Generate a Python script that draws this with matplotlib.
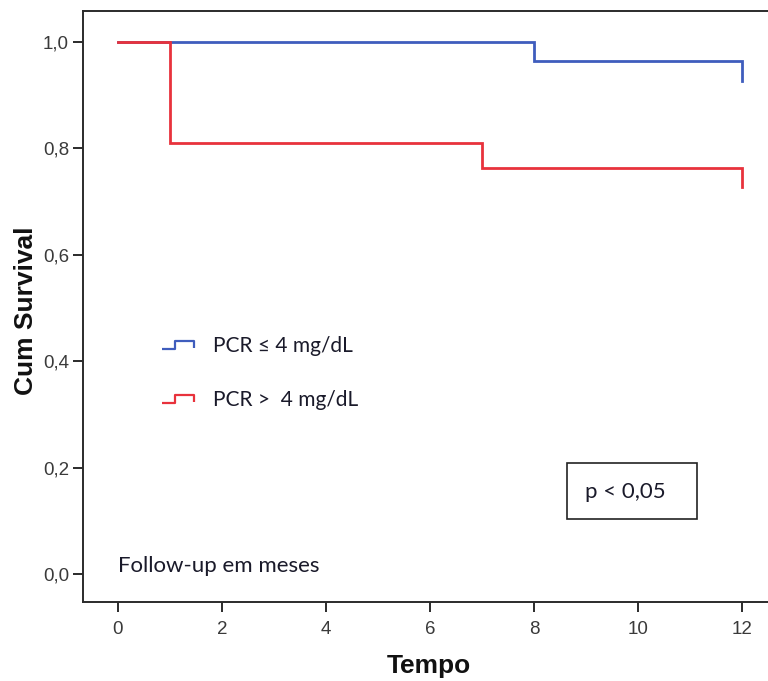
import matplotlib
matplotlib.use("Agg")
import matplotlib.pyplot as plt
from matplotlib.lines import Line2D
from matplotlib.path import Path
from matplotlib.patches import Rectangle

plt.rcParams["font.family"] = ["Liberation Sans", "DejaVu Sans"]

# Kaplan-Meier estimates
low_t = [0, 8, 12]
low_s = [1.0, 0.963, 0.926]
high_t = [0, 1, 7, 12]
high_s = [1.0, 0.810, 0.762, 0.727]

labels = ["PCR \u2264 4 mg/dL", "PCR >  4 mg/dL"]
xticks = [0, 2, 4, 6, 8, 10, 12]
yticks = [0.0, 0.2, 0.4, 0.6, 0.8, 1.0]

blue = "#3F5DBD"
red = "#E8323C"
axcol = "#2b2b2b"

fig = plt.figure(figsize=(7.68, 6.81), dpi=100)
ax = fig.add_axes([0.108, 0.116, 0.892, 0.868])

ax.step(low_t, low_s, where="post", color=blue, lw=2.0, solid_joinstyle="miter")
ax.step(high_t, high_s, where="post", color=red, lw=2.0, solid_joinstyle="miter")

ax.set_xlim(-0.673, 12.5)
ax.set_ylim(-0.0526, 1.058)
ax.set_xticks(xticks)
ax.set_xticklabels([str(v) for v in xticks])
ax.set_yticks(yticks)
ax.set_yticklabels([("%.1f" % v).replace(".", ",") for v in yticks])

for s in ["left", "bottom", "top"]:
    ax.spines[s].set_linewidth(1.4)
    ax.spines[s].set_color(axcol)
ax.spines["right"].set_visible(False)
ax.tick_params(direction="out", length=7.5, width=1.4, color=axcol,
               labelsize=13.5, labelcolor="#3a3a3a")
ax.tick_params(axis="x", pad=6)
ax.tick_params(axis="y", pad=2.5)

ax.set_xlabel("Tempo", fontsize=19, fontweight="bold", color="#111111")
ax.xaxis.set_label_coords(0.505, -0.088)
ax.set_ylabel("Cum Survival", fontsize=19, fontweight="bold", color="#111111")
ax.yaxis.label.set_va("center")
ax.yaxis.set_label_coords(-0.083, 0.492)

# step-shaped legend icons
icon = Path([(-1.0, -0.22), (-0.2, -0.22), (-0.2, 0.22), (1.0, 0.22), (1.0, -0.2)],
            [Path.MOVETO, Path.LINETO, Path.LINETO, Path.LINETO, Path.LINETO])
handles = [Line2D([], [], linestyle="none", marker=icon, markersize=23,
                  markerfacecolor="none", markeredgecolor=c, markeredgewidth=1.6)
           for c in (blue, red)]
leg = ax.legend(handles, labels, loc="upper left", bbox_to_anchor=(0.0876, 0.482),
                frameon=False, handlelength=1.6, handletextpad=0.86,
                labelspacing=1.65, prop={"family": "Lato", "size": 15})
for t in leg.get_texts():
    t.set_color("#1a1a2a")

ax.text(0.0, 0.003, "Follow-up em meses", fontsize=16, family="Lato",
        color="#1a1a2a", va="baseline", ha="left")

ax.add_patch(Rectangle((0.7066, 0.1404), 0.1898, 0.0948, transform=ax.transAxes,
                       fill=False, edgecolor="#222222", lw=1.2))
ax.text(0.792, 0.186, "p < 0,05", transform=ax.transAxes, fontsize=16,
        family="Lato", color="#1a1a2a", ha="center", va="center")

fig.savefig("out.png", dpi=100)
